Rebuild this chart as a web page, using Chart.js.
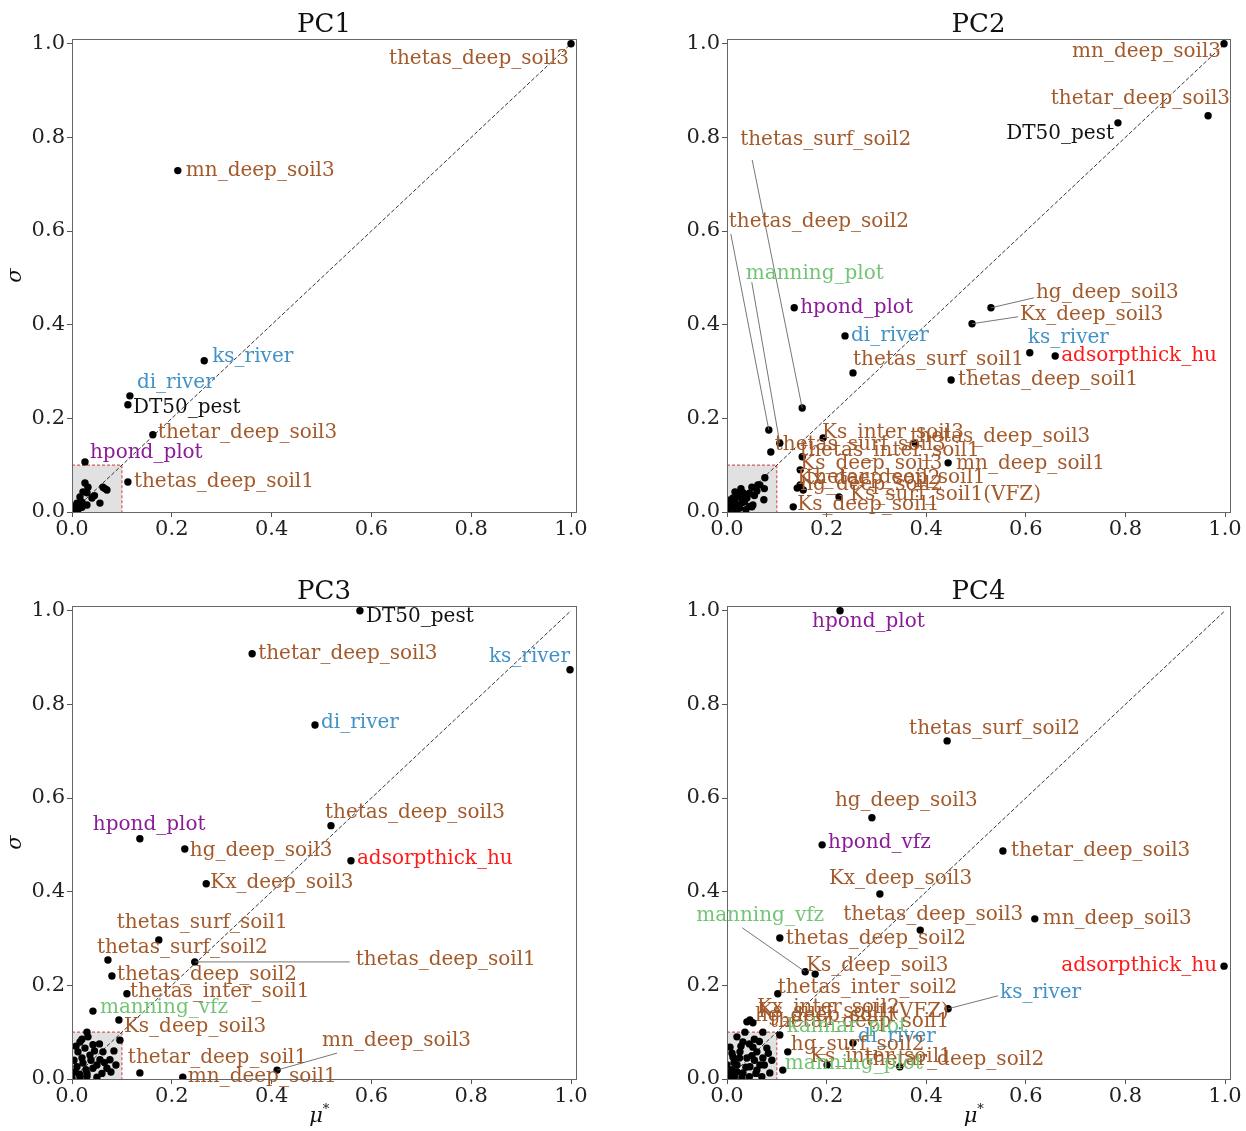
<!DOCTYPE html>
<html>
<head>
<meta charset="utf-8">
<script src="https://cdn.jsdelivr.net/npm/chart.js@4"></script>
<style>
  body { margin: 0; background: #fff; width: 1246px; height: 1131px; position: relative; overflow: hidden; }
  canvas { position: absolute; }
</style>
</head>
<body>
<canvas id="pc1" width="623" height="560" style="left:0;top:0"></canvas>
<canvas id="pc2" width="623" height="560" style="left:623px;top:0"></canvas>
<canvas id="pc3" width="623" height="571" style="left:0;top:560px"></canvas>
<canvas id="pc4" width="623" height="571" style="left:623px;top:560px"></canvas>
<script>
// tick labels, same on both axes of every panel
const tickValues = [0.0, 0.2, 0.4, 0.6, 0.8, 1.0];

// PC1 : mu* and sigma, named parameters first, then the unnamed cluster
const pc1Names = ['thetas_deep_soil3', 'mn_deep_soil3', 'ks_river', 'di_river', 'DT50_pest',
  'thetar_deep_soil3', 'hpond_plot', 'thetas_deep_soil1'];
const pc1Mu = [1.0, 0.212, 0.265, 0.116, 0.112, 0.162, 0.026, 0.112,
  0.026, 0.032, 0.022, 0.062, 0.070, 0.056, 0.016, 0.010, 0.006, 0.020, 0.030, 0.002,
  0.040, 0.012, 0.030, 0.045, 0.020, 0.066, 0.004, 0.008];
const pc1Sigma = [1.0, 0.729, 0.323, 0.248, 0.229, 0.165, 0.107, 0.064,
  0.062, 0.053, 0.043, 0.053, 0.047, 0.019, 0.032, 0.019, 0.011, 0.021, 0.041, 0.009,
  0.030, 0.005, 0.015, 0.035, 0.010, 0.050, 0.002, 0.014];

// PC2
const pc2Names = ['mn_deep_soil3', 'thetar_deep_soil3', 'DT50_pest', 'thetas_surf_soil2', 'thetas_deep_soil2',
  'manning_plot', 'thetas_surf_soil3', 'hpond_plot', 'di_river', 'thetas_surf_soil1', 'thetas_deep_soil1',
  'hg_deep_soil3', 'Kx_deep_soil3', 'ks_river', 'adsorpthick_hu', 'Ks_inter_soil3', 'thetas_deep_soil3',
  'thetas_inter_soil1', 'Ks_deep_soil3', 'mn_deep_soil1', 'hg_deep_soil2', 'thetar_deep_soil1',
  'Kx_deep_soil2', 'Ks_surf_soil1(VFZ)', 'Ks_deep_soil1'];
const pc2Mu = [0.998, 0.966, 0.785, 0.151, 0.084, 0.106, 0.088, 0.135, 0.237, 0.253, 0.450,
  0.530, 0.492, 0.608, 0.659, 0.193, 0.378, 0.151, 0.147, 0.444, 0.141, 0.153, 0.147, 0.225, 0.133,
  0.016, 0.026, 0.032, 0.050, 0.062, 0.076, 0.052, 0.005, 0.010, 0.020, 0.030, 0.015, 0.040,
  0.008, 0.025, 0.045, 0.075, 0.074, 0.035, 0.002, 0.066, 0.050,
  0.012, 0.022, 0.035, 0.045, 0.055, 0.018, 0.060, 0.028, 0.003, 0.038];
const pc2Sigma = [1.0, 0.846, 0.831, 0.222, 0.175, 0.147, 0.128, 0.436, 0.376, 0.297, 0.282,
  0.436, 0.402, 0.340, 0.333, 0.158, 0.147, 0.118, 0.090, 0.105, 0.051, 0.047, 0.058, 0.032, 0.011,
  0.043, 0.032, 0.041, 0.053, 0.058, 0.073, 0.015, 0.005, 0.010, 0.015, 0.020, 0.025, 0.030,
  0.020, 0.008, 0.012, 0.050, 0.026, 0.035, 0.012, 0.058, 0.011,
  0.030, 0.038, 0.022, 0.040, 0.035, 0.005, 0.045, 0.050, 0.025, 0.005];

// PC3
const pc3Names = ['DT50_pest', 'thetar_deep_soil3', 'ks_river', 'di_river', 'thetas_deep_soil3',
  'hpond_plot', 'hg_deep_soil3', 'adsorpthick_hu', 'Kx_deep_soil3', 'thetas_surf_soil1',
  'thetas_surf_soil2', 'thetas_deep_soil1', 'thetas_deep_soil2', 'thetas_inter_soil1', 'manning_vfz',
  'Ks_deep_soil3', 'thetar_deep_soil1', 'mn_deep_soil3', 'mn_deep_soil1'];
const pc3Mu = [0.577, 0.361, 0.998, 0.487, 0.519, 0.136, 0.226, 0.559, 0.269, 0.174, 0.072,
  0.246, 0.080, 0.110, 0.042, 0.094, 0.136, 0.411, 0.222,
  0.030, 0.016, 0.042, 0.062, 0.076, 0.012, 0.036, 0.056, 0.022, 0.010, 0.006, 0.042, 0.096,
  0.070, 0.016, 0.050, 0.032, 0.026, 0.084, 0.004, 0.060, 0.088, 0.030, 0.000,
  0.020, 0.045, 0.050, 0.028, 0.015, 0.065, 0.038, 0.008, 0.055, 0.020, 0.078, 0.030];
const pc3Sigma = [1.0, 0.908, 0.874, 0.756, 0.541, 0.513, 0.491, 0.466, 0.417, 0.297, 0.254,
  0.250, 0.220, 0.182, 0.145, 0.126, 0.013, 0.019, 0.004,
  0.100, 0.079, 0.073, 0.058, 0.041, 0.058, 0.051, 0.041, 0.034, 0.026, 0.015, 0.023, 0.083,
  0.023, 0.004, 0.004, 0.090, 0.066, 0.060, 0.040, 0.012, 0.030, 0.012, 0.002,
  0.045, 0.060, 0.030, 0.020, 0.010, 0.035, 0.040, 0.070, 0.075, 0.085, 0.015, 0.006];

// PC4
const pc4Names = ['hpond_plot', 'thetas_surf_soil2', 'hg_deep_soil3', 'hpond_vfz', 'thetar_deep_soil3',
  'Kx_deep_soil3', 'mn_deep_soil3', 'thetas_deep_soil3', 'thetas_deep_soil2', 'manning_vfz',
  'Ks_deep_soil3', 'adsorpthick_hu', 'thetas_inter_soil2', 'ks_river', 'Kx_inter_soil2',
  'Ks_surf_soil1(VFZ)', 'hg_deep_soil1', 'thetar_deep_soil1', 'kalmar_plot', 'di_river',
  'hg_surf_soil2', 'Ks_inter_soil1', 'thetar_deep_soil2', 'manning_plot'];
const pc4Mu = [0.227, 0.442, 0.291, 0.191, 0.554, 0.307, 0.618, 0.388, 0.106, 0.157, 0.177,
  0.998, 0.102, 0.444, 0.046, 0.052, 0.040, 0.072, 0.106, 0.253, 0.122, 0.201, 0.347, 0.112,
  0.020, 0.032, 0.006, 0.052, 0.026, 0.060, 0.012, 0.040, 0.072, 0.000, 0.020, 0.046, 0.066,
  0.006, 0.032, 0.060, 0.086, 0.080, 0.015, 0.045, 0.070, 0.090, 0.036, 0.010, 0.055,
  0.025, 0.050, 0.014, 0.038, 0.055, 0.075, 0.028, 0.045, 0.010, 0.065, 0.030, 0.058, 0.004, 0.083, 0.020];
const pc4Sigma = [1.0, 0.722, 0.558, 0.500, 0.487, 0.395, 0.342, 0.318, 0.301, 0.229, 0.224,
  0.241, 0.182, 0.150, 0.126, 0.120, 0.122, 0.100, 0.094, 0.077, 0.058, 0.030, 0.026, 0.019,
  0.090, 0.079, 0.068, 0.068, 0.058, 0.058, 0.047, 0.045, 0.045, 0.030, 0.030, 0.026, 0.030,
  0.015, 0.013, 0.019, 0.013, 0.066, 0.005, 0.005, 0.005, 0.040, 0.100, 0.020, 0.085,
  0.045, 0.050, 0.035, 0.025, 0.040, 0.030, 0.070, 0.075, 0.055, 0.080, 0.003, 0.012, 0.005, 0.055, 0.015];

// where each label sits, in pixels from its point (default: just right of it)
const pc1Tags = {
  thetas_deep_soil3: {dx: -2, dy: 15, align: 'right'},
  mn_deep_soil3: {dx: 8, dy: 0},
  ks_river: {dx: 8, dy: -4},
  di_river: {dx: 7, dy: -13},
  DT50_pest: {dx: 5, dy: 3},
  thetar_deep_soil3: {dx: 5, dy: -2},
  hpond_plot: {dx: 5, dy: -9}
};
const pc2Tags = {
  mn_deep_soil3: {dx: -3, dy: 8, align: 'right'},
  thetar_deep_soil3: {dx: 22, dy: -17, align: 'right'},
  DT50_pest: {dx: -4, dy: 11, align: 'right'},
  thetas_surf_soil2: {dx: -62, dy: -268, lx: -50, ly: -248},
  thetas_deep_soil2: {dx: -40, dy: -208, lx: -38, ly: -196},
  manning_plot: {dx: -34, dy: -169, lx: -28, ly: -161},
  thetas_surf_soil3: {dx: 4, dy: -7},
  thetas_surf_soil1: {dx: 0, dy: -13},
  thetas_deep_soil1: {dx: 7, dy: 0},
  hg_deep_soil3: {dx: 45, dy: -15, lx: 43, ly: -10},
  Kx_deep_soil3: {dx: 48, dy: -9, lx: 46, ly: -7},
  ks_river: {dx: -2, dy: -15},
  Ks_inter_soil3: {dx: -1, dy: -5},
  thetas_deep_soil3: {dx: -5, dy: -6},
  thetas_inter_soil1: {dx: -2, dy: -6},
  Ks_deep_soil3: {dx: 0, dy: -6},
  mn_deep_soil1: {dx: 8, dy: 1},
  hg_deep_soil2: {dx: 3, dy: -3},
  thetar_deep_soil1: {dx: 3, dy: -12},
  Kx_deep_soil2: {dx: -3, dy: -6},
  'Ks_surf_soil1(VFZ)': {dx: 11, dy: -2},
  Ks_deep_soil1: {dx: 4, dy: -2}
};
const pc3Tags = {
  DT50_pest: {dx: 6, dy: 6},
  ks_river: {dx: 0, dy: -13, align: 'right'},
  di_river: {dx: 6, dy: -2},
  thetas_deep_soil3: {dx: -6, dy: -13},
  hpond_plot: {dx: -47, dy: -14},
  hg_deep_soil3: {dx: 5, dy: 2},
  adsorpthick_hu: {dx: 6, dy: -2},
  Kx_deep_soil3: {dx: 4, dy: -1},
  thetas_surf_soil1: {dx: -42, dy: -17},
  thetas_surf_soil2: {dx: -11, dy: -12},
  thetas_deep_soil1: {dx: 161, dy: -2, lx: 155, ly: 0},
  thetas_deep_soil2: {dx: 5, dy: -1},
  thetas_inter_soil1: {dx: 3, dy: -2},
  manning_vfz: {dx: 7, dy: -3},
  Ks_deep_soil3: {dx: 5, dy: 7},
  thetar_deep_soil1: {dx: -12, dy: -15},
  mn_deep_soil3: {dx: 45, dy: -29, lx: 60, ly: -17},
  mn_deep_soil1: {dx: 5, dy: 0}
};
const pc4Tags = {
  hpond_plot: {dx: -28, dy: 11},
  thetas_surf_soil2: {dx: -38, dy: -12},
  hg_deep_soil3: {dx: -37, dy: -17},
  hpond_vfz: {dx: 6, dy: -2},
  thetar_deep_soil3: {dx: 8, dy: 0},
  Kx_deep_soil3: {dx: -51, dy: -15},
  mn_deep_soil3: {dx: 8, dy: 0},
  thetas_deep_soil3: {dx: -77, dy: -15},
  thetas_deep_soil2: {dx: 6, dy: 1},
  manning_vfz: {dx: -109, dy: -56, lx: -63, ly: -44},
  Ks_deep_soil3: {dx: -9, dy: -8},
  adsorpthick_hu: {dx: -7, dy: 0, align: 'right'},
  thetas_inter_soil2: {dx: 0, dy: -6},
  ks_river: {dx: 52, dy: -16, lx: 50, ly: -13},
  Kx_inter_soil2: {dx: 7, dy: -12},
  'Ks_surf_soil1(VFZ)': {dx: 5, dy: -11},
  hg_deep_soil1: {dx: 8, dy: -6},
  thetar_deep_soil1: {dx: 7, dy: -10},
  kalmar_plot: {dx: 7, dy: -8},
  di_river: {dx: 5, dy: -6},
  hg_surf_soil2: {dx: 3, dy: -7},
  Ks_inter_soil1: {dx: -17, dy: -8},
  thetar_deep_soil2: {dx: -35, dy: -7},
  manning_plot: {dx: 2, dy: -6}
};

const SERIF = '"DejaVu Serif", "Liberation Serif", serif';

function tagColour(name) {
  if (name === 'DT50_pest') return '#111111';
  if (name === 'adsorpthick_hu') return '#ff1a1a';
  if (name.startsWith('hpond')) return '#8a1c98';
  if (name.startsWith('manning') || name === 'kalmar_plot') return '#74c476';
  if (name.endsWith('_river')) return '#4292c6';
  return '#a35a2b';
}

const decor = {
  id: 'decor',
  beforeDatasetsDraw(chart) {
    const {ctx, scales: {x, y}} = chart;
    const x0 = x.getPixelForValue(0), x1 = x.getPixelForValue(0.1);
    const y0 = y.getPixelForValue(0), y1 = y.getPixelForValue(0.1);
    ctx.save();
    ctx.fillStyle = 'rgba(200,200,200,0.55)';
    ctx.fillRect(x0, y1, x1 - x0, y0 - y1);
    ctx.strokeStyle = '#d65a5a';
    ctx.lineWidth = 1.2;
    ctx.setLineDash([3, 2]);
    ctx.beginPath();
    ctx.moveTo(x0, y1); ctx.lineTo(x1, y1); ctx.lineTo(x1, y0);
    ctx.stroke();
    ctx.restore();
  },
  afterDatasetsDraw(chart, args, opts) {
    const {ctx, scales: {x, y}} = chart;
    const names = opts.names, tags = opts.tags;
    ctx.save();
    ctx.font = '20px ' + SERIF;
    ctx.textBaseline = 'middle';
    names.forEach((name, i) => {
      const px = x.getPixelForValue(opts.mu[i]);
      const py = y.getPixelForValue(opts.sigma[i]);
      const t = tags[name] || {dx: 6, dy: 0};
      if (t.lx !== undefined) {
        ctx.strokeStyle = '#666';
        ctx.lineWidth = 0.9;
        ctx.beginPath();
        ctx.moveTo(px + t.lx, py + t.ly);
        ctx.lineTo(px, py);
        ctx.stroke();
      }
      ctx.fillStyle = tagColour(name);
      ctx.textAlign = t.align || 'left';
      ctx.fillText(name, px + t.dx, py + t.dy);
    });
    ctx.restore();
  },
  afterDraw(chart, args, opts) {
    const {ctx, chartArea: a} = chart;
    ctx.save();
    ctx.strokeStyle = '#666';
    ctx.lineWidth = 1;
    ctx.strokeRect(a.left + 0.5, a.top + 0.5, a.right - a.left, a.bottom - a.top);
    ctx.fillStyle = '#111';
    ctx.textAlign = 'center';
    ctx.textBaseline = 'middle';
    ctx.font = '26px ' + SERIF;
    ctx.fillText(opts.title, (a.left + a.right) / 2, a.top - 14);
    if (opts.yTitle) {
      ctx.save();
      ctx.translate(16, (a.top + a.bottom) / 2);
      ctx.rotate(-Math.PI / 2);
      ctx.font = 'italic 21px ' + SERIF;
      ctx.fillText('σ', 0, 0);
      ctx.restore();
    }
    if (opts.xTitle) {
      const cx = (a.left + a.right) / 2 - 8, cy = a.bottom + 38;
      ctx.font = 'italic 21px ' + SERIF;
      ctx.fillText('μ', cx, cy);
      ctx.font = '13px ' + SERIF;
      ctx.fillText('*', cx + 10, cy - 7);
    }
    ctx.restore();
  }
};

function axis(extra) {
  return Object.assign({
    type: 'linear',
    min: 0,
    max: 1.01,
    afterBuildTicks: s => { s.ticks = tickValues.map(v => ({value: v})); },
    grid: {drawOnChartArea: false, drawTicks: true, tickLength: 5, color: '#555'},
    border: {display: true, color: '#666'}
  }, extra);
}

function makePanel(id, title, names, mu, sigma, tags, pad, xHeight, leftCol, bottomRow) {
  new Chart(document.getElementById(id), {
    type: 'scatter',
    data: {
      datasets: [
        {
          data: mu.map((m, i) => ({x: m, y: sigma[i]})),
          pointRadius: 3.7,
          pointBackgroundColor: '#000',
          pointBorderWidth: 0
        },
        {
          type: 'line',
          data: [{x: 0, y: 0}, {x: 1, y: 1}],
          borderColor: '#333',
          borderWidth: 1,
          borderDash: [4, 2],
          pointRadius: 0,
          fill: false
        }
      ]
    },
    options: {
      responsive: false,
      animation: false,
      events: [],
      layout: {padding: pad},
      scales: {
        x: axis({
          ticks: {font: {family: SERIF, size: 21}, color: '#222', padding: 0, callback: v => v.toFixed(1)},
          afterFit: s => { s.height = xHeight; }
        }),
        y: axis({
          ticks: {font: {family: SERIF, size: 21}, color: '#222', padding: 2, callback: v => v.toFixed(1)},
          afterFit: s => { s.width = 72; }
        })
      },
      plugins: {
        legend: {display: false},
        tooltip: {enabled: false},
        decor: {title, names, mu, sigma, tags, yTitle: leftCol, xTitle: bottomRow}
      }
    },
    plugins: [decor]
  });
}

makePanel('pc1', 'PC1', pc1Names, pc1Mu, pc1Sigma, pc1Tags, {left: 0, top: 39, right: 47, bottom: 0}, 48, true, false);
makePanel('pc2', 'PC2', pc2Names, pc2Mu, pc2Sigma, pc2Tags, {left: 32, top: 39, right: 16, bottom: 0}, 48, false, false);
makePanel('pc3', 'PC3', pc3Names, pc3Mu, pc3Sigma, pc3Tags, {left: 0, top: 46, right: 47, bottom: 0}, 52, true, true);
makePanel('pc4', 'PC4', pc4Names, pc4Mu, pc4Sigma, pc4Tags, {left: 32, top: 46, right: 16, bottom: 0}, 52, false, true);
</script>
</body>
</html>
